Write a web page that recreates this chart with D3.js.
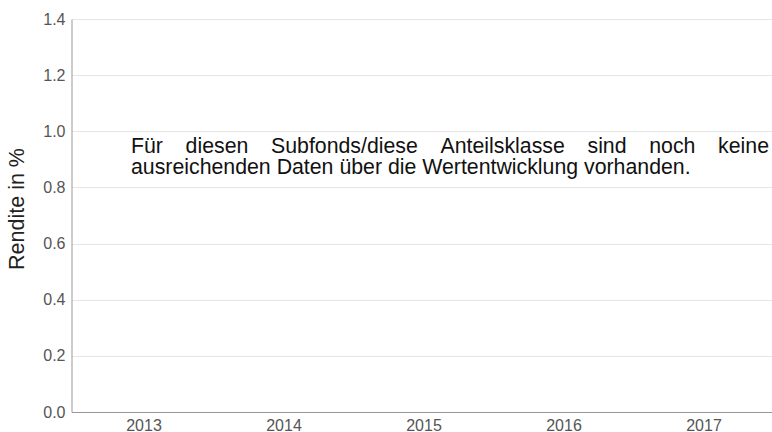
<!DOCTYPE html>
<html>
<head>
<meta charset="utf-8">
<script src="https://cdn.jsdelivr.net/npm/d3@7"></script>
<style>
  body { margin: 0; background: #fff; }
  svg { display: block; font-family: "Liberation Sans", Arial, sans-serif; }
</style>
</head>
<body>
<div id="chart"></div>
<script>
const years = ["2013", "2014", "2015", "2016", "2017"];
const yTicks = [0, 0.2, 0.4, 0.6, 0.8, 1.0, 1.2, 1.4];
// no performance data available
const returns = [];
const noteLines = [
    "Für diesen Subfonds/diese Anteilsklasse sind noch keine",
    "ausreichenden Daten über die Wertentwicklung vorhanden."
];

const width = 772, height = 432;
const margin = {top: 19, right: 0, bottom: 20, left: 72};

const svg = d3.select("#chart")
    .append("svg")
    .attr("width", width)
    .attr("height", height);

const x = d3.scaleBand()
    .domain(years)
    .range([margin.left + 2, width + 2]);

const y = d3.scaleLinear()
    .domain([0, 1.4])
    .range([height - margin.bottom, margin.top]);

// gridlines
svg.append("g")
    .selectAll("line")
    .data(yTicks.slice(1))
    .enter()
    .append("line")
    .attr("x1", margin.left)
    .attr("x2", width)
    .attr("y1", d => Math.round(y(d)) + 0.5)
    .attr("y2", d => Math.round(y(d)) + 0.5)
    .attr("stroke", "#e6e6e6");

// y axis
const yAxis = svg.append("g")
    .attr("transform", "translate(" + (margin.left - 0.5) + ",0)")
    .call(d3.axisLeft(y).tickValues(yTicks).tickFormat(d3.format(".1f")).tickSize(0).tickPadding(6));
yAxis.select(".domain").attr("stroke", "#999");
yAxis.selectAll("text")
    .attr("font-size", 16)
    .attr("fill", "#555")
    .attr("font-family", "Liberation Sans, Arial, sans-serif");

// x axis
const xAxis = svg.append("g")
    .attr("transform", "translate(0," + (Math.round(y(0)) + 0.5) + ")")
    .call(d3.axisBottom(x).tickSize(0).tickPadding(0));
xAxis.select(".domain").attr("d", "M" + margin.left + ",0H" + width).attr("stroke", "#999");
xAxis.selectAll("text")
    .attr("dy", null)
    .attr("y", 18)
    .attr("font-size", 16)
    .attr("fill", "#555")
    .attr("font-family", "Liberation Sans, Arial, sans-serif");

// y axis title
svg.append("text")
    .attr("transform", "translate(24,209) rotate(-90)")
    .attr("text-anchor", "middle")
    .attr("font-size", 21.5)
    .attr("fill", "#222")
    .text("Rendite in %");

// note text, first line justified
const noteLeft = 131, noteRight = 769;
const noteSize = 21.3;
const note = svg.append("g");
noteLines.forEach(function(line, i) {
    const by = 153 + i * 21;
    if (i < noteLines.length - 1) {
        const words = line.split(" ");
        const t = note.append("text")
            .attr("font-size", noteSize)
            .attr("fill", "#111");
        const spans = words.map(w => t.append("tspan").attr("y", by).text(w));
        const lens = spans.map(s => s.node().getComputedTextLength());
        const total = d3.sum(lens);
        const gap = (noteRight - noteLeft - total) / (words.length - 1);
        let cx = noteLeft;
        spans.forEach(function(s, k) {
            s.attr("x", cx);
            cx += lens[k] + gap;
        });
    } else {
        note.append("text")
            .attr("x", noteLeft)
            .attr("y", by)
            .attr("font-size", noteSize)
            .attr("fill", "#111")
            .text(line);
    }
});
</script>
</body>
</html>
